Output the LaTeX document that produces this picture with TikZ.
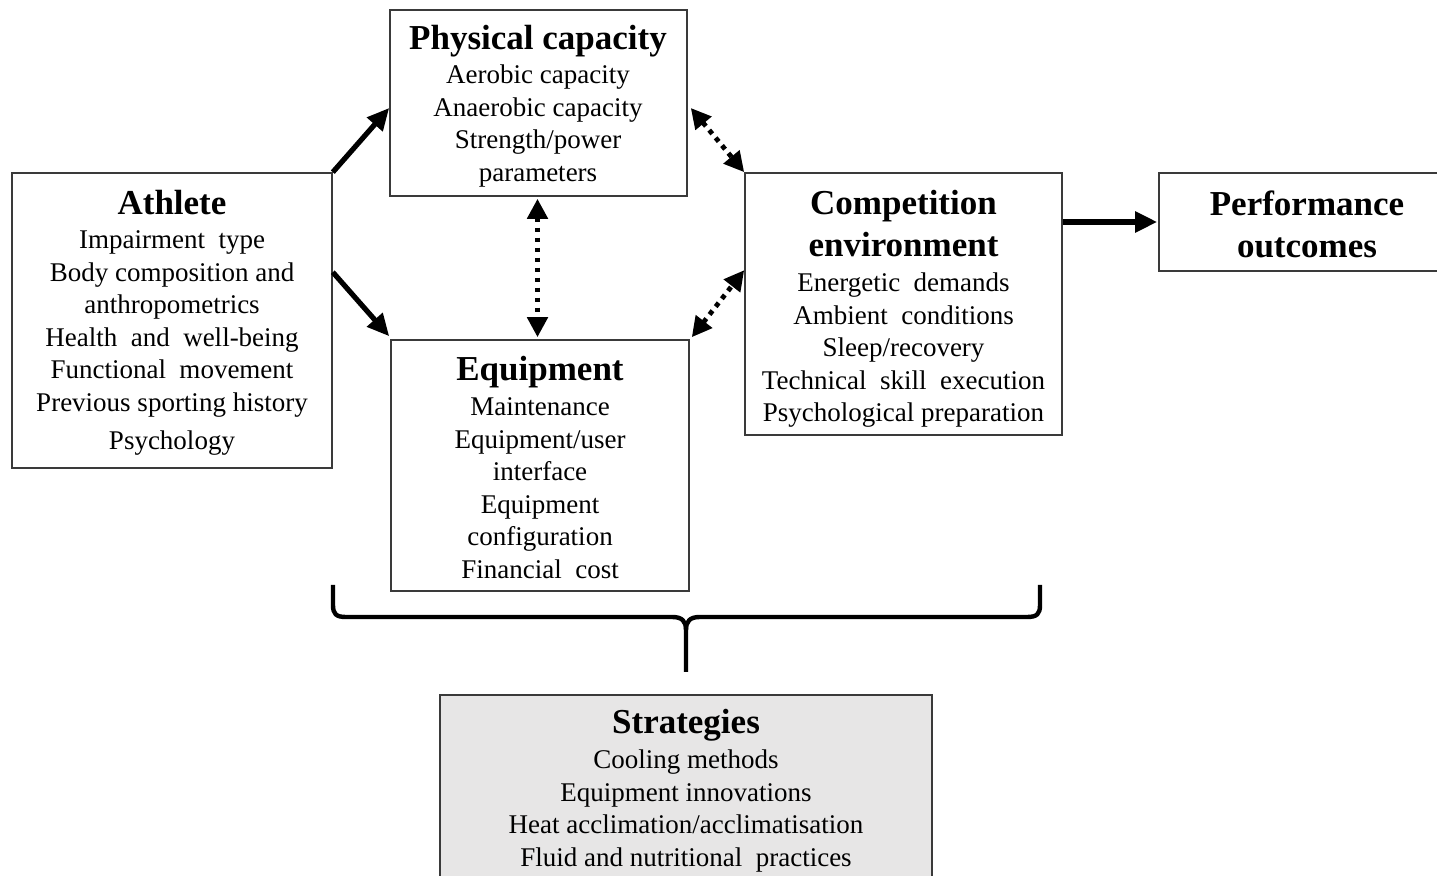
\documentclass[tikz,border=0pt]{standalone}
\usepackage{fontspec}
\setmainfont{Liberation Serif}
\usetikzlibrary{arrows.meta,calc}
\definecolor{boxline}{HTML}{3A3A3A}
\definecolor{stratfill}{HTML}{E7E6E6}
\tikzset{
  box/.style={draw=boxline, line width=0.8pt, inner sep=0pt},
  txt/.style={anchor=north, align=center, inner sep=0pt, font=\fontsize{13.5}{16.25}\selectfont},
  solidarr/.style={line width=2.6pt, -{Triangle[length=11pt,width=10pt]}},
  dotarr/.style={line width=2.4pt, dash pattern=on 2.4pt off 2.6pt,
     {Triangle[length=10pt,width=10pt]}-{Triangle[length=10pt,width=10pt]}},
  bracestyle/.style={line width=2.2pt, line join=round}
}
\newcommand{\ttl}[1]{{\fontsize{17.5}{18}\bfseries #1}}
\begin{document}
\begin{tikzpicture}[x=0.5pt,y=-0.5pt]
\clip (0,0) rectangle (1437,876);
\fill[white] (0,0) rectangle (1437,876);
% boxes
\node[box, minimum width=148.5pt, minimum height=93pt] (phys) at (538.5,103) {};
\node[box, minimum width=160pt, minimum height=147.5pt] (ath) at (172,320.5) {};
\node[box, minimum width=149pt, minimum height=125.5pt] (eq) at (540,465.5) {};
\node[box, minimum width=158.5pt, minimum height=131pt] (comp) at (903.5,304) {};
\node[box, minimum width=148pt, minimum height=49pt] (perf) at (1307,222) {};
\node[box, fill=stratfill, minimum width=246pt, minimum height=105pt] (strat) at (686,800) {};
% texts
\node[txt] (physT) at (538,25) {\ttl{Physical capacity}\\[0.75pt]
  Aerobic capacity\\ Anaerobic capacity\\ Strength/power\\ parameters};
\node[txt] (athT) at (172,190) {\ttl{Athlete}\\[0.75pt]
  Impairment\ \ type\\ Body composition and\\ anthropometrics\\ Health\ \ and\ \ well-being\\
  Functional\ \ movement\\ Previous sporting history\\[2.75pt] Psychology};
\node[txt] (eqT) at (540,356) {\ttl{Equipment}\\[1.25pt]
  Maintenance\\ Equipment/user\\ interface\\ Equipment\\ configuration\\ Financial\ \ cost};
\node[txt] (compT) at (903.5,190) {\ttl{Competition}\\[4.75pt]\ttl{environment}\\[1.25pt]
  Energetic\ \ demands\\ Ambient\ \ conditions\\ Sleep/recovery\\ Technical\ \ skill\ \ execution\\
  Psychological preparation};
\node[txt] (perfT) at (1307,190) {\ttl{Performance}\\[4.75pt]\ttl{outcomes}};
\node[txt] (stratT) at (686,709) {\ttl{Strategies}\\[1.25pt]
  Cooling methods\\ Equipment innovations\\ Heat acclimation/acclimatisation\\
  Fluid and nutritional\ \ practices};
% arrows
\draw[solidarr] (ath.north east) -- ($(phys.west)+(0,5)$);
\draw[solidarr] ($(ath.north east)+(0,100)$) -- ($(eq.north west)+(-1,-3)$);
\draw[dotarr] ($(phys.east)+(3,5)$) -- (comp.north west);
\draw[dotarr] ($(eq.north east)+(2,-2)$) -- ($(comp.north west)+(0,98)$);
\draw[dotarr] ($(phys.south)+(-1,2)$) -- ($(phys.south |- eq.north)+(-1,-2)$);
\draw[solidarr] (comp.east |- perf.west) -- ($(perf.west)+(-1,0)$);
% brace
\coordinate (bl) at (333,585);
\coordinate (br) at (1040,585);
\coordinate (btip) at (686,672);
\draw[bracestyle] (bl) -- (333,605) .. controls (333,614) and (336,617) .. (346,617)
  -- (672,617) .. controls (682,617) and (686,621) .. (686,630) -- (btip);
\draw[bracestyle] (br) -- (1040,605) .. controls (1040,614) and (1037,617) .. (1027,617)
  -- (700,617) .. controls (690,617) and (686,621) .. (686,630);
\end{tikzpicture}
\end{document}
